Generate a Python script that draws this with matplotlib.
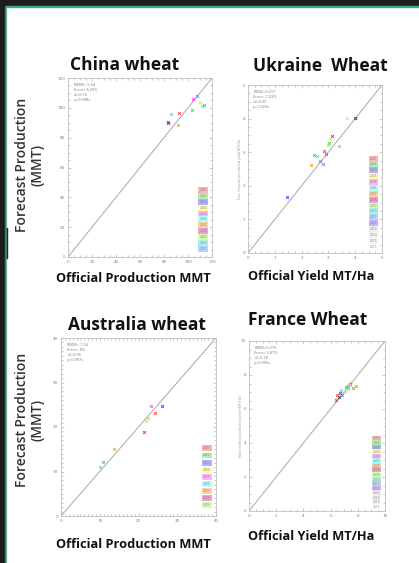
import numpy as np
import matplotlib
matplotlib.use("Agg")
import matplotlib.pyplot as plt
from matplotlib.patches import Rectangle

plt.rcParams['font.family'] = ['Open Sans', 'DejaVu Sans']

######data
year_colors = ['#ff3030', '#30d030', '#3030ff', '#e8e800', '#ff30ff', '#30e0e0',
               '#ff9020', '#c0208a', '#90f040', '#20c0a0', '#3090ff', '#9040ff',
               '#b0b0b0', '#c0c0c0', '#d0d0d0', '#303030']
# year-box fills for the right-hand key (last year drawn plain)
box_colors = ['#ffb0b0', '#b0f0b0', '#b0b0ff', '#ffffa0', '#ffb0ff', '#b0ffff',
              '#ffd0a0', '#f0a0d0', '#d0ffb0', '#b0f0e0', '#b0d8ff', '#d0b0ff',
              '#eeeeee', '#f2f2f2', '#f5f5f5', '#ffffff']

china_years = ['2001', '2002', '2003', '2004', '2005', '2006', '2007', '2008',
               '2009', '2010', '2011']
china_official = [92.3, 103.5, 83.0, 110.0, 104.0, 85.7, 91.7, 83.5, 112.0, 113.0, 107.6]
china_forecast = [96.8, 98.7, 90.4, 104.0, 105.8, 95.8, 88.6, 90.0, 101.0, 102.0, 107.6]
china_stats = ['RMSE= 5.64', 'Error= 6.29%', 'r2=0.70', 'y=0.998x']

ukraine_years = ['2001', '2002', '2003', '2004', '2005', '2006', '2007', '2008',
                 '2009', '2010', '2011', '2012', '2013', '2014', '2015', '2016']
ukraine_official = [2.85, 3.03, 1.47, 3.06, 2.81, 2.56, 2.35, 3.12, 3.00, 2.46,
                    2.70, 2.90, 3.40, 4.03, 3.71, 4.00]
ukraine_forecast = [3.03, 3.27, 1.67, 3.40, 2.66, 2.88, 2.62, 3.48, 3.20, 2.91,
                    2.75, 2.95, 3.19, 4.01, 4.01, 4.02]
ukraine_stats = ['RMSE=0.217', 'Error= 7.03%', 'r2=0.81', 'y=1.023x']

australia_years = ['2001', '2002', '2003', '2004', '2005', '2006', '2007', '2008', '2009']
australia_official = [24.2, 10.8, 26.0, 21.9, 23.1, 9.95, 13.6, 21.4, 22.5]
australia_forecast = [23.1, 12.2, 24.8, 21.4, 24.8, 10.9, 15.1, 18.9, 22.0]
australia_stats = ['RMSE= 1.54', 'Error= 8%', 'r2=0.95', 'y=0.997x']

france_years = ukraine_years
france_official = [6.49, 7.67, 6.69, 7.50, 7.30, 6.76, 7.87, 6.37, 7.20, 7.13,
                   6.81, 7.40, 7.25, 7.05, 7.35, 6.60]
france_forecast = [6.82, 7.22, 6.96, 7.61, 7.35, 7.12, 7.35, 6.53, 7.30, 7.27,
                   6.82, 7.45, 7.20, 7.00, 7.40, 6.70]
france_stats = ['RMSE=0.275', 'Error= 3.87%', 'r2=0.78', 'y=0.995x']

W, H = 419, 563
fig = plt.figure(figsize=(W / 100, H / 100), dpi=100)
fig.patch.set_facecolor('white')


def box(x0, y0, x1, y1):
    # pixel box (top-left origin) -> figure fraction rect
    return [x0 / W, 1 - y1 / H, (x1 - x0) / W, (y1 - y0) / H]


def panel(rect, lim, step, minor, xs, ys, years, stats, leg_top, leg_h, ylab=None):
    ax = fig.add_axes(rect)
    ax.plot([0, lim], [0, lim], color='#a8a8a8', lw=0.7, zorder=1)
    for i in range(len(xs)):
        ax.plot(xs[i], ys[i], 'x', ms=2.0, mew=0.7, color=year_colors[i],
                alpha=0.85, zorder=3)
    ax.set_xlim(0, lim)
    ax.set_ylim(0, lim)
    ax.set_xticks(np.arange(0, lim + step / 2, step))
    ax.set_yticks(np.arange(0, lim + step / 2, step))
    ax.set_xticks(np.arange(0, lim + minor / 2, minor), minor=True)
    ax.set_yticks(np.arange(0, lim + minor / 2, minor), minor=True)
    ax.tick_params(which='both', direction='in', top=True, right=True,
                   color='#b0b0b0', width=0.5, labelsize=3.2, labelcolor='#777777', pad=2)
    ax.tick_params(which='major', length=2.5)
    ax.tick_params(which='minor', length=1.3)
    for s in ax.spines.values():
        s.set_color('#c0c0c0')
        s.set_linewidth(0.6)
    ax.text(0.04, 0.97, '\n'.join(stats), transform=ax.transAxes, va='top', ha='left',
            fontsize=2.8, color='#777777', linespacing=1.3)
    # colored year boxes along the right edge
    n = len(years)
    dy = leg_h / n
    for i, yr in enumerate(years):
        ax.text(0.965, leg_top - dy * (i + 0.5), yr, transform=ax.transAxes,
                ha='right', va='center', fontsize=2.4, color='#888888',
                bbox=dict(facecolor=box_colors[i], edgecolor='none', pad=0.7))
    if ylab:
        ax.text(-0.045, 0.5, ylab, transform=ax.transAxes, rotation=90, ha='right',
                va='center', fontsize=2.6, color='#999999')
    return ax


panel(box(68, 78, 212, 257), 120, 20, 5, china_official, china_forecast,
      china_years, china_stats, 0.39, 0.36)
panel(box(248, 85, 382, 253), 5, 1, 0.25, ukraine_official, ukraine_forecast,
      ukraine_years, ukraine_stats, 0.58, 0.56, 'Dev. forecast predicted yield MT/Ha')
panel(box(61, 338, 216, 516), 40, 10, 1, australia_official, australia_forecast,
      australia_years, australia_stats, 0.40, 0.36)
panel(box(249, 341, 385, 511), 10, 2, 0.5, france_official, france_forecast,
      france_years, france_stats, 0.44, 0.43, 'New method predicted yield (MT/Ha)')

# titles and axis labels
def ftext(x, y, s, **kw):
    fig.text(x / W, 1 - y / H, s, ha='center', va='center', **kw)


ftext(125, 65, 'China wheat', fontsize=12.5, fontweight='bold', color='#111111')
ftext(320, 66, 'Ukraine  Wheat', fontsize=12.5, fontweight='bold', color='#111111')
ftext(137, 325, 'Australia wheat', fontsize=12.5, fontweight='bold', color='#111111')
ftext(308, 320, 'France Wheat', fontsize=12.5, fontweight='bold', color='#111111')

xl = dict(fontsize=9.2, fontweight='bold', color='#111111')
ftext(133, 278, 'Official Production MMT', **xl)
ftext(311, 276, 'Official Yield MT/Ha', **xl)
ftext(133, 544, 'Official Production MMT', **xl)
ftext(311, 537, 'Official Yield MT/Ha', **xl)

yl = dict(fontsize=10, fontweight='semibold', color='#333333', rotation=90,
          linespacing=1.1)
ftext(30, 165, 'Forecast Production\n(MMT)', **yl)
ftext(30, 420, 'Forecast Production\n(MMT)', **yl)

# dark frame with teal edge
dark = '#1d1d1d'
teal = '#3fa88c'
fig.patches.append(Rectangle((0, 1 - 6 / H), 1, 6 / H, transform=fig.transFigure,
                             color=dark, zorder=10))
fig.patches.append(Rectangle((0, 1 - 7.2 / H), 1, 1.4 / H, transform=fig.transFigure,
                             color=teal, zorder=10))
fig.patches.append(Rectangle((0, 0), 4.5 / W, 1, transform=fig.transFigure,
                             color=dark, zorder=10))
fig.patches.append(Rectangle((0, 1 - 258 / H), 7 / W, 30 / H, transform=fig.transFigure,
                             color=dark, zorder=10))
fig.patches.append(Rectangle((4.5 / W, 0), 1.2 / W, 1 - 6 / H, transform=fig.transFigure,
                             color=teal, alpha=0.6, zorder=10))

fig.savefig('out.png', dpi=100)
